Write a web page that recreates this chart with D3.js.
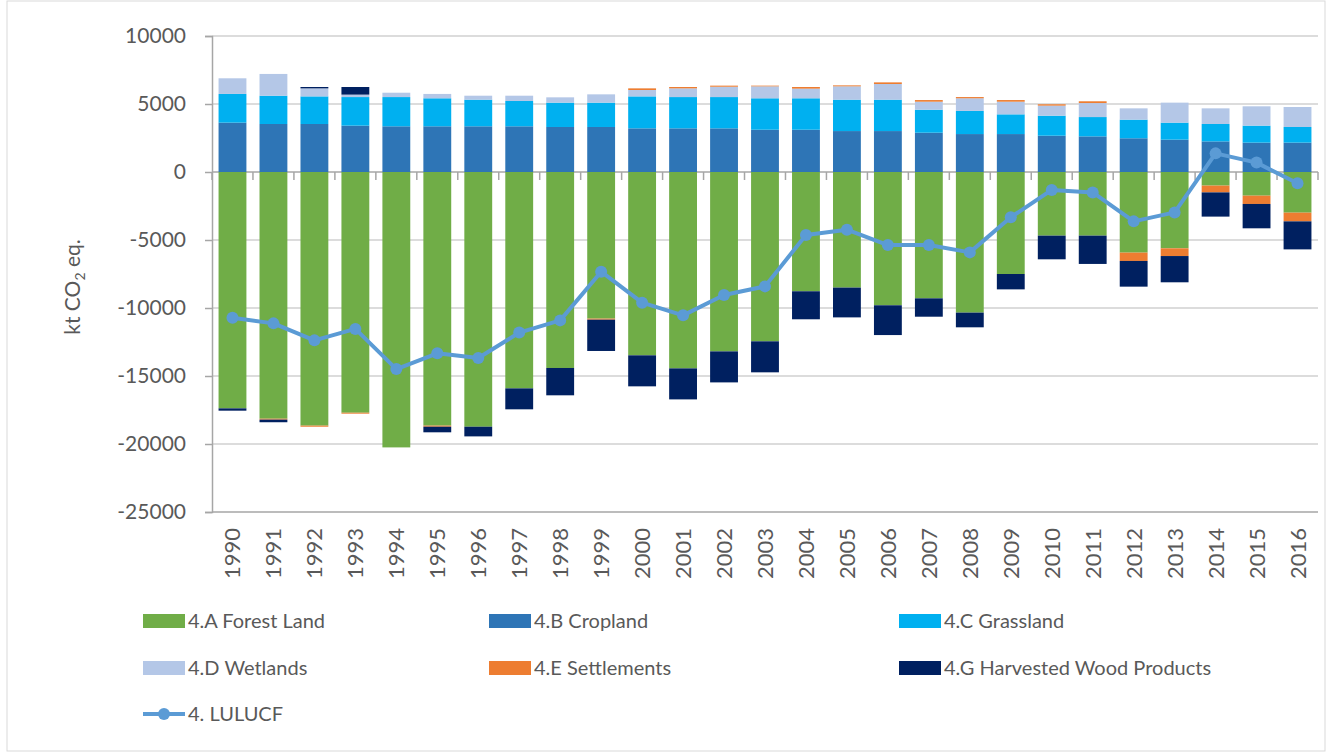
<!DOCTYPE html>
<html>
<head>
<meta charset="utf-8">
<script src="https://cdn.jsdelivr.net/npm/d3@7"></script>
<style>
  body { margin: 0; background: #fff; }
  text { font-family: Lato, "Open Sans", sans-serif; fill: #595959; }
</style>
</head>
<body>
<div id="chart"></div>
<script>
const years = d3.range(1990, 2017).map(String);

// kt CO2 eq. per sub-category
const forestLand = [-17380, -18140, -18650, -17700, -20250, -18650, -18730, -15910, -14410, -10780,
  -13480, -14440, -13190, -12450, -8770, -8500, -9800, -9290, -10340, -7500,
  -4680, -4680, -5930, -5610, -1000, -1740, -2990];
const cropland = [3630, 3530, 3530, 3410, 3360, 3360, 3360, 3360, 3310, 3310,
  3210, 3210, 3210, 3110, 3110, 3010, 3010, 2890, 2790, 2790,
  2670, 2620, 2480, 2380, 2250, 2160, 2160];
const grassland = [2110, 2080, 2030, 2100, 2150, 2060, 1960, 1860, 1790, 1790,
  2350, 2300, 2300, 2310, 2310, 2310, 2310, 1690, 1700, 1450,
  1470, 1420, 1370, 1250, 1280, 1250, 1150];
const wetlands = [1150, 1600, 590, 180, 320, 320, 290, 390, 390, 610,
  470, 640, 760, 880, 710, 980, 1150, 590, 930, 930,
  740, 1030, 830, 1470, 1150, 1420, 1470];
const settlements = [0, -70, -80, -70, 0, -80, 0, 0, 0, -80,
  120, 100, 80, 50, 120, 70, 120, 120, 90, 120,
  100, 130, -610, -570, -500, -610, -640];
const harvestedWood = [-170, -190, 100, 560, 0, -410, -710, -1540, -2010, -2300,
  -2280, -2280, -2280, -2280, -2060, -2190, -2190, -1350, -1080, -1130,
  -1740, -2080, -1890, -1930, -1780, -1790, -2060];
const lulucf = [-10710, -11130, -12380, -11540, -14490, -13330, -13680, -11810, -10910, -7330,
  -9610, -10540, -9040, -8410, -4630, -4240, -5370, -5370, -5910, -3330,
  -1320, -1500, -3630, -2970, 1370, 690, -830];

const seriesNames = ['4.A Forest Land', '4.B Cropland', '4.C Grassland',
  '4.D Wetlands', '4.E Settlements', '4.G Harvested Wood Products'];
const seriesValues = [forestLand, cropland, grassland, wetlands, settlements, harvestedWood];
const seriesColors = ['#70AD47', '#2E75B6', '#00B0F0', '#B4C7E7', '#ED7D31', '#002060'];
const lineName = '4. LULUCF';
const lineColor = '#5B9BD5';
const yTicks = [10000, 5000, 0, -5000, -10000, -15000, -20000, -25000];

const W = 1330, H = 754;
const PLOT = {LEFT: 212, RIGHT: 1318, TOP: 36, BOTTOM: 512};

const svg = d3.select('#chart').append('svg')
  .attr('width', W)
  .attr('height', H);

svg.append('rect')
  .attr('x', 7).attr('y', 1)
  .attr('width', W - 12).attr('height', H - 4)
  .attr('fill', 'none')
  .attr('stroke', '#d9d9d9');

const table = years.map((yr, i) => {
  const row = {year: yr};
  seriesNames.forEach((n, j) => { row[n] = seriesValues[j][i]; });
  return row;
});

const stacked = d3.stack()
  .keys(seriesNames)
  .offset(d3.stackOffsetDiverging)(table);

const x = d3.scaleBand()
  .domain(years)
  .range([PLOT.LEFT, PLOT.RIGHT])
  .paddingInner(0.32)
  .paddingOuter(0.16);

const y = d3.scaleLinear()
  .domain([-25000, 10000])
  .range([PLOT.BOTTOM, PLOT.TOP]);

// gridlines
svg.append('g')
  .selectAll('line')
  .data(yTicks)
  .join('line')
    .attr('x1', PLOT.LEFT)
    .attr('x2', PLOT.RIGHT)
    .attr('y1', d => y(d))
    .attr('y2', d => y(d))
    .attr('stroke', d => d === 0 || d === -25000 ? '#a6a6a6' : '#d0d0d0')
    .attr('stroke-width', 1.5);

// y axis
const yAxis = svg.append('g')
  .attr('transform', `translate(${PLOT.LEFT},0)`)
  .call(d3.axisLeft(y).tickValues(yTicks).tickSize(7).tickPadding(19).tickFormat(d => String(d)));
yAxis.select('.domain').attr('stroke', '#a6a6a6').attr('stroke-width', 1.5);
yAxis.selectAll('.tick line').attr('stroke', '#a6a6a6').attr('stroke-width', 1.5);
yAxis.selectAll('.tick text')
  .attr('font-size', 21)
  .style('font-family', 'Lato, sans-serif')
  .attr('fill', '#595959');

const yTitle = svg.append('text')
  .attr('transform', `translate(80, 287) rotate(-90)`)
  .attr('text-anchor', 'middle')
  .attr('font-size', 21)
  .text('kt CO');
yTitle.append('tspan').attr('font-size', 14).attr('dy', 5).text('2');
yTitle.append('tspan').attr('dy', -5).text(' eq.');

// category ticks along zero line
const bounds = years.map(yr => x(yr) - x.step() * x.paddingInner() / 2).concat([PLOT.RIGHT]);
bounds[0] = PLOT.LEFT;
svg.append('g')
  .selectAll('line')
  .data(bounds)
  .join('line')
    .attr('x1', d => d).attr('x2', d => d)
    .attr('y1', y(0)).attr('y2', y(0) + 8)
    .attr('stroke', '#a6a6a6')
    .attr('stroke-width', 1.5);

// bars
svg.append('g')
  .selectAll('g')
  .data(stacked)
  .join('g')
    .attr('fill', (d, i) => seriesColors[i])
  .selectAll('rect')
  .data(d => d)
  .join('rect')
    .attr('x', d => x(d.data.year))
    .attr('width', x.bandwidth())
    .attr('y', d => y(Math.max(d[0], d[1])))
    .attr('height', d => Math.abs(y(d[0]) - y(d[1])));

// x labels at bottom
svg.append('g')
  .selectAll('text')
  .data(years)
  .join('text')
    .attr('transform', d => `translate(${x(d) + x.bandwidth() / 2 + 8}, ${PLOT.BOTTOM + 16}) rotate(-90)`)
    .attr('text-anchor', 'end')
    .attr('font-size', 22)
    .text(d => d);

// LULUCF line
const line = d3.line()
  .x((d, i) => x(years[i]) + x.bandwidth() / 2)
  .y(d => y(d));

svg.append('path')
  .datum(lulucf)
  .attr('d', line)
  .attr('fill', 'none')
  .attr('stroke', lineColor)
  .attr('stroke-width', 4)
  .attr('stroke-linejoin', 'round');

svg.append('g')
  .selectAll('circle')
  .data(lulucf)
  .join('circle')
    .attr('cx', (d, i) => x(years[i]) + x.bandwidth() / 2)
    .attr('cy', d => y(d))
    .attr('r', 6)
    .attr('fill', lineColor);

// legend
const legendCols = [143, 489, 899];
const legendRows = [621, 668, 714];
const legend = svg.append('g');
seriesNames.forEach((n, i) => {
  const lx = legendCols[i % 3], ly = legendRows[Math.floor(i / 3)];
  legend.append('rect')
    .attr('x', lx).attr('y', ly - 7)
    .attr('width', 42).attr('height', 14)
    .attr('fill', seriesColors[i]);
  legend.append('text')
    .attr('x', lx + 45).attr('y', ly + 7)
    .attr('font-size', 20)
    .text(n);
});
legend.append('line')
  .attr('x1', 143).attr('x2', 185)
  .attr('y1', legendRows[2]).attr('y2', legendRows[2])
  .attr('stroke', lineColor).attr('stroke-width', 4);
legend.append('circle')
  .attr('cx', 164).attr('cy', legendRows[2]).attr('r', 6)
  .attr('fill', lineColor);
legend.append('text')
  .attr('x', 188).attr('y', legendRows[2] + 7)
  .attr('font-size', 20)
  .text(lineName);
</script>
</body>
</html>
